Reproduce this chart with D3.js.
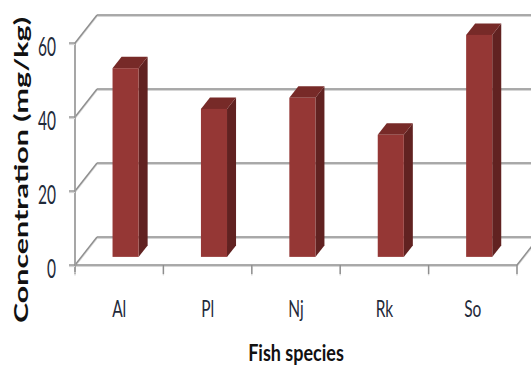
<!DOCTYPE html>
<html>
<head>
<meta charset="utf-8">
<script src="https://cdn.jsdelivr.net/npm/d3@7"></script>
<style>
  html, body { margin: 0; padding: 0; background: #ffffff; }
  svg { display: block; }
</style>
</head>
<body>
<div id="chart"></div>
<script>
// Mean concentration per fish species
const categories = ["Al", "Pl", "Nj", "Rk", "So"];
const values = [51, 40, 43, 33, 60];
const yTicks = [0, 20, 40, 60];
const yTitle = "Concentration (mg/kg)";
const xTitle = "Fish species";

const W = 531, H = 367;
const svg = d3.select("#chart").append("svg")
  .attr("width", W).attr("height", H);

// Front plane of the 3-D box
const x = d3.scaleBand().domain(categories).range([75, 517]);
const y = d3.scaleLinear().domain([0, 60]).range([265, 43]);

// Depth of the box (offset of the back wall)
const depth = { dx: 22, dy: -28 };
// Bars sit between these fractions of the depth
const barFront = 0.29, barBack = 0.70;
const barWidthFrac = 0.295;

const gridColor = "#8e8e8e";
const gridShadow = "#d6d6d6";

const plot = svg.append("g");

function gline(x1, y1, x2, y2, w) {
  plot.append("line")
    .attr("x1", x1).attr("y1", y1 + 1.4).attr("x2", x2).attr("y2", y2 + 1.4)
    .attr("stroke", gridShadow).attr("stroke-width", w || 1.4);
  plot.append("line")
    .attr("x1", x1).attr("y1", y1).attr("x2", x2).attr("y2", y2)
    .attr("stroke", gridColor).attr("stroke-width", w || 1.4);
}

const x0 = x.range()[0], x1 = x.range()[1];

// Back wall gridlines and left wall diagonals
yTicks.forEach(v => {
  const yy = y(v);
  gline(x0 + depth.dx, yy + depth.dy, x1 + depth.dx, yy + depth.dy);
  gline(x0, yy, x0 + depth.dx, yy + depth.dy);
});

// Floor: right edge and front edge
gline(x1, y(0), x1 + depth.dx, y(0) + depth.dy);
gline(x0, y(0), x1, y(0));

// Category boundary ticks
d3.range(categories.length + 1).forEach(i => {
  const xx = x0 + i * x.step();
  gline(xx, y(0), xx, y(0) + 9);
});

// Front value axis and its ticks
gline(x0, y(60), x0, y(0) + 7);
yTicks.forEach(v => gline(x0 - 6, y(v), x0, y(v)));

// 3-D bars
const colFront = "#953735", colSide = "#612221", colTop = "#772a28";
const bars = plot.append("g");
categories.forEach((c, i) => {
  const v = values[i];
  const bw = x.bandwidth() * barWidthFrac;
  const cx = x(c) + x.bandwidth() / 2 + depth.dx * barFront;
  const left = cx - bw / 2, right = cx + bw / 2;
  const baseY = y(0) + depth.dy * barFront;
  const topY = baseY - (y(0) - y(v));
  const ox = depth.dx * (barBack - barFront), oy = depth.dy * (barBack - barFront);
  const g = bars.append("g");
  // side face
  g.append("path")
    .attr("d", `M${right},${topY} L${right + ox},${topY + oy} L${right + ox},${baseY + oy} L${right},${baseY} Z`)
    .attr("fill", colSide);
  // top face
  g.append("path")
    .attr("d", `M${left},${topY} L${left + ox},${topY + oy} L${right + ox},${topY + oy} L${right},${topY} Z`)
    .attr("fill", colTop);
  // front face
  g.append("rect")
    .attr("x", left).attr("y", topY)
    .attr("width", bw).attr("height", baseY - topY)
    .attr("fill", colFront);
});

// Text helper: tall, condensed lettering
function label(px, py, txt, opts) {
  const t = svg.append("text")
    .attr("transform", `translate(${px},${py}) rotate(${opts.rotate || 0}) scale(${opts.sx || 1},${opts.sy || 1})`)
    .attr("text-anchor", opts.anchor || "middle")
    .attr("font-family", "Lato, 'Open Sans', sans-serif")
    .attr("font-size", opts.size)
    .attr("font-weight", opts.weight || "normal")
    .attr("fill", opts.fill || "#1a1a1a")
    .text(txt);
  if (opts.length) t.attr("textLength", opts.length).attr("lengthAdjust", "spacingAndGlyphs");
  return t;
}

// Value tick labels
yTicks.forEach(v => {
  label(56, y(v) + 12.5, String(v), { size: 15.5, sy: 1.75, anchor: "end", fill: "#1f2a3a" });
});

// Category labels
categories.forEach(c => {
  label(x(c) + x.bandwidth() / 2, 317, c, { size: 15.5, sy: 1.45, fill: "#1f2a3a" });
});

// Axis titles
label(296, 361, xTitle, { size: 18, sy: 1.3, weight: "bold", fill: "#111" });
label(28, 170, yTitle, { size: 19.5, weight: "bold", rotate: -90, length: 306, fill: "#111" });
</script>
</body>
</html>
